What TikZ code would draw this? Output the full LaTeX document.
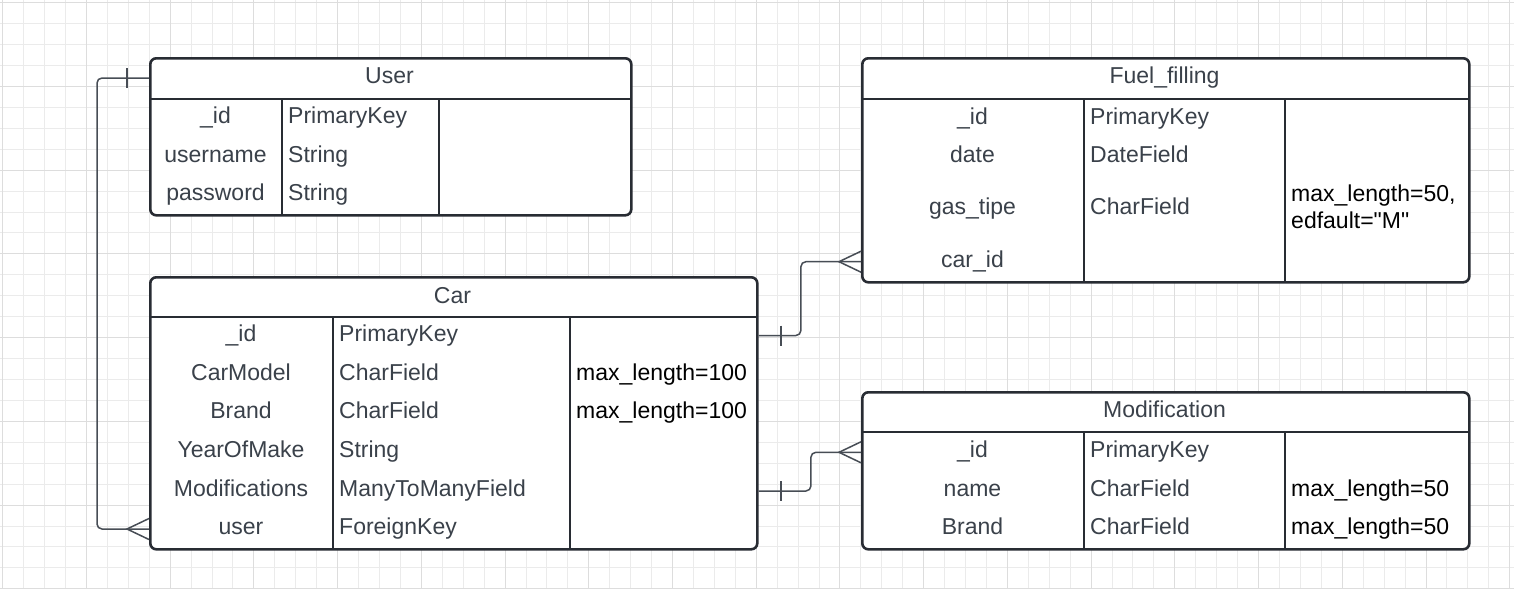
\documentclass[tikz,border=0pt]{standalone}
\usepackage{fontspec}
\setmainfont{Liberation Sans}
\usepackage{tikz}

\definecolor{lineclr}{HTML}{282C33}
\definecolor{txtclr}{HTML}{3A414A}
\definecolor{relclr}{HTML}{474D55}
\definecolor{gridminor}{HTML}{EBEBEB}
\definecolor{gridmajor}{HTML}{DDDDDD}

\tikzset{
  tbl/.style={draw=lineclr, line width=2.6pt, fill=white, rounded corners=6pt, anchor=north west, inner sep=0pt},
  sep/.style={draw=lineclr, line width=2.6pt},
  fld/.style={text=txtclr, anchor=base, inner sep=0pt},
  typ/.style={text=txtclr, anchor=base west, inner sep=0pt},
  opt/.style={text=black, anchor=base west, inner sep=0pt, align=left},
  rel/.style={draw=relclr, line width=1.5pt, rounded corners=5pt},
  foot/.style={draw=relclr, line width=1.5pt},
}

\begin{document}
\begin{tikzpicture}[x=1pt, y=-1pt, font=\fontsize{23}{26.7}\selectfont]
\useasboundingbox (0,0) rectangle (1514,589);
\fill[white] (0,0) rectangle (1514,589);
% background grid
\foreach \i in {0,...,72}
   \draw[gridminor, line width=0.9pt] (2.7+\i*20.93,0) -- (2.7+\i*20.93,589);
\foreach \i in {0,...,28}
   \draw[gridminor, line width=0.9pt] (0,2.7+\i*20.93) -- (1514,2.7+\i*20.93);
\foreach \i in {0,4,...,72}
   \draw[gridmajor, line width=0.9pt] (2.7+\i*20.93,0) -- (2.7+\i*20.93,589);
\foreach \i in {0,4,...,28}
   \draw[gridmajor, line width=0.9pt] (0,2.7+\i*20.93) -- (1514,2.7+\i*20.93);

% tables
\node[tbl, minimum width=481pt, minimum height=157pt] (user) at (149,57) {};
\node[tbl, minimum width=607pt, minimum height=272pt] (car) at (149,276) {};
\node[tbl, minimum width=607pt, minimum height=224pt] (fuel) at (861,57) {};
\node[tbl, minimum width=607pt, minimum height=157pt] (mod) at (861,391) {};

\draw[sep] (149,99) -- (630,99);
\draw[sep] (282,99) -- (282,214);
\draw[sep] (439,99) -- (439,214);
\draw[sep] (149,317) -- (756,317);
\draw[sep] (333,317) -- (333,548);
\draw[sep] (570,317) -- (570,548);
\foreach \top/\bot in {99/281, 432/548} {
   \draw[sep] (861,\top) -- (1468,\top);
   \draw[sep] (1084,\top) -- (1084,\bot);
   \draw[sep] (1285,\top) -- (1285,\bot);
}

% User
\node[fld] (user-head) at (389.5,83.5) {User};
\foreach \f/\t [count=\i from 0] in {\_id/PrimaryKey, username/String, password/String} {
   \node[fld] (user-f\i) at (215.5,123.6+\i*38.6) {\f};
   \node[typ] (user-t\i) at (288,123.6+\i*38.6) {\t};
}

% Car
\node[fld] (car-head) at (452.5,303) {Car};
\foreach \f/\t [count=\i from 0] in {\_id/PrimaryKey, CarModel/CharField, Brand/CharField, YearOfMake/String, Modifications/ManyToManyField, user/ForeignKey} {
   \node[fld] (car-f\i) at (241,341.6+\i*38.6) {\f};
   \node[typ] (car-t\i) at (339,341.6+\i*38.6) {\t};
}
\node[opt] (car-o1) at (576,380.2) {max\_length=100};
\node[opt] (car-o2) at (576,418.8) {max\_length=100};

% Fuel_filling
\node[fld] (fuel-head) at (1164.5,83.5) {Fuel\_filling};
\foreach \y/\f/\t [count=\i from 0] in {124.2/\_id/PrimaryKey, 162.5/date/DateField, 214.2/gas\_tipe/CharField, 267.5/car\_id/{}} {
   \node[fld] (fuel-f\i) at (972.5,\y) {\f};
   \node[typ] (fuel-t\i) at (1090,\y) {\t};
}
\node[opt] (fuel-o2) at (1291,228.6) {max\_length=50,\\edfault=\textquotedbl M\textquotedbl};

% Modification
\node[fld] (mod-head) at (1164.5,417.5) {Modification};
\foreach \f/\t [count=\i from 0] in {\_id/PrimaryKey, name/CharField, Brand/CharField} {
   \node[fld] (mod-f\i) at (972.5,457.5+\i*38.6) {\f};
   \node[typ] (mod-t\i) at (1090,457.5+\i*38.6) {\t};
}
\node[opt] (mod-o1) at (1291,496.1) {max\_length=50};
\node[opt] (mod-o2) at (1291,534.7) {max\_length=50};

% relations
\draw[rel] ([yshift=-21pt]user.north west) -- ++(-52,0) |- ([yshift=-253pt]car.north west);
\draw[foot] ([xshift=-22pt,yshift=-21pt]user.north west) ++(0,-10) -- ++(0,20);
\draw[foot] ([yshift=-253pt]car.north west) ++(0,-10.5) -- ++(-22,10.5) -- ++(22,10.5);

\draw[rel] ([yshift=-59.5pt]car.north east) -- ++(42.3,0) |- ([yshift=-204.7pt]fuel.north west);
\draw[foot] ([xshift=22.3pt,yshift=-59.5pt]car.north east) ++(0,-10) -- ++(0,20);
\draw[foot] ([yshift=-204.7pt]fuel.north west) ++(0,-10.5) -- ++(-22,10.5) -- ++(22,10.5);

\draw[rel] ([yshift=-215pt]car.north east) -- ++(52.3,0) |- ([yshift=-61.3pt]mod.north west);
\draw[foot] ([xshift=22.3pt,yshift=-215pt]car.north east) ++(0,-10) -- ++(0,20);
\draw[foot] ([yshift=-61.3pt]mod.north west) ++(0,-10.5) -- ++(-22,10.5) -- ++(22,10.5);
\end{tikzpicture}
\end{document}
